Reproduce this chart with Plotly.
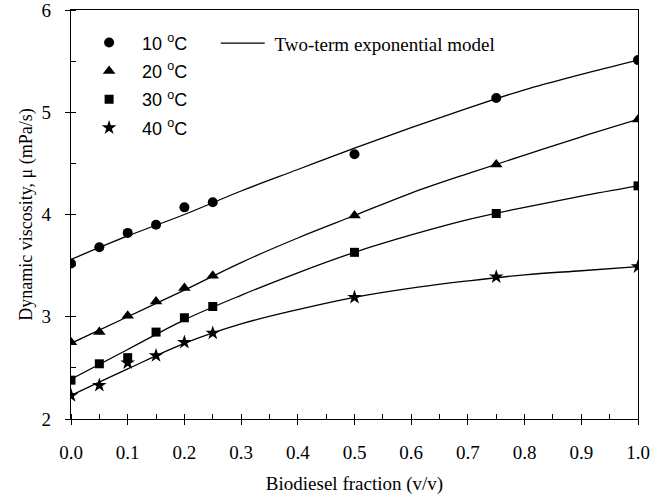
import plotly.graph_objects as go

# Measured data (biodiesel fraction vs dynamic viscosity)
fraction = [0.0, 0.05, 0.10, 0.15, 0.20, 0.25, 0.50, 0.75, 1.00]
visc_10 = [3.52, 3.68, 3.82, 3.90, 4.07, 4.12, 4.59, 5.14, 5.51]
visc_20 = [2.75, 2.85, 3.01, 3.15, 3.28, 3.40, 3.99, 4.49, 4.93]
visc_30 = [2.38, 2.54, 2.60, 2.85, 2.99, 3.10, 3.63, 4.01, 4.28]
visc_40 = [2.23, 2.33, 2.55, 2.62, 2.75, 2.84, 3.19, 3.39, 3.49]

# Two-term exponential model curves
model_x = [0.0, 0.1, 0.2, 0.3, 0.4, 0.5, 0.6, 0.7, 0.8, 0.9, 1.0]
model_10 = [3.56, 3.79, 4.00, 4.23, 4.44, 4.65, 4.85, 5.04, 5.22, 5.37, 5.51]
model_20 = [2.74, 3.00, 3.26, 3.53, 3.77, 3.99, 4.21, 4.40, 4.58, 4.76, 4.93]
model_30 = [2.39, 2.68, 2.97, 3.21, 3.43, 3.63, 3.80, 3.95, 4.07, 4.18, 4.28]
model_40 = [2.23, 2.49, 2.74, 2.93, 3.07, 3.19, 3.28, 3.35, 3.41, 3.45, 3.49]

labels = ["10 <sup>o</sup>C", "20 <sup>o</sup>C", "30 <sup>o</sup>C", "40 <sup>o</sup>C"]
model_label = "\u00a0Two-term exponential model"
series = [visc_10, visc_20, visc_30, visc_40]
models = [model_10, model_20, model_30, model_40]
symbols = ["circle", "triangle-up", "square", "star"]
sizes = [10, 11, 9, 11]

fig = go.Figure()

for i, m in enumerate(models):
    fig.add_trace(go.Scatter(
        x=model_x, y=m, mode="lines", line=dict(color="black", width=1.3, shape="spline"),
        name=model_label, showlegend=(i == 0), legend="legend2",
        hoverinfo="skip"))

for lab, ys, sym, sz in zip(labels, series, symbols, sizes):
    fig.add_trace(go.Scatter(
        x=fraction, y=ys, mode="markers", name=lab, legendgroup=lab,
        marker=dict(symbol=sym, size=sz, color="black", line=dict(width=0))))

serif = "Liberation Serif, Times New Roman, serif"
sans = "Liberation Sans, Arial, sans-serif"

fig.update_layout(
    width=651, height=496,
    margin=dict(l=71, r=13, t=10, b=77),
    paper_bgcolor="white", plot_bgcolor="white",
    font=dict(family=serif, size=16, color="black"),
    legend=dict(x=0.009, y=0.965, xanchor="left", yanchor="top",
                font=dict(family=sans, size=18, color="black"),
                bgcolor="rgba(0,0,0,0)", tracegroupgap=2, itemwidth=56),
    legend2=dict(x=0.2553, y=0.965, xanchor="left", yanchor="top",
                 font=dict(family=serif, size=19, color="black"),
                 bgcolor="rgba(0,0,0,0)", itemwidth=44),
    xaxis=dict(range=[0, 1], dtick=0.1, tickformat=".1f", automargin=False,
               showgrid=False, zeroline=False, showline=True, linecolor="black",
               linewidth=1.3, mirror=True, ticks="outside", ticklen=5,
               tickcolor="black", tickfont=dict(size=19, family=serif),
               ticklabelstandoff=11, ticklabeloverflow="allow",
               minor=dict(dtick=0.05, ticks="inside", ticklen=5, tickcolor="black"),
               title=dict(text="Biodiesel fraction (v/v)", font=dict(size=19, family=serif),
                          standoff=14)),
    yaxis=dict(range=[2, 6], dtick=1, automargin=False,
               showgrid=False, zeroline=False, showline=True, linecolor="black",
               linewidth=1.3, mirror=True, ticks="outside", ticklen=5,
               tickcolor="black", tickfont=dict(size=19, family=serif),
               ticklabelstandoff=10, ticklabeloverflow="allow",
               minor=dict(dtick=0.5, ticks="inside", ticklen=5, tickcolor="black"),
               title=dict(text="Dynamic viscosity, μ (mPa/s)", font=dict(size=18, family=serif),
                          standoff=4)),
)

fig.write_html("out.html", config={"displayModeBar": False},
               post_script="document.body.style.margin='0';")
